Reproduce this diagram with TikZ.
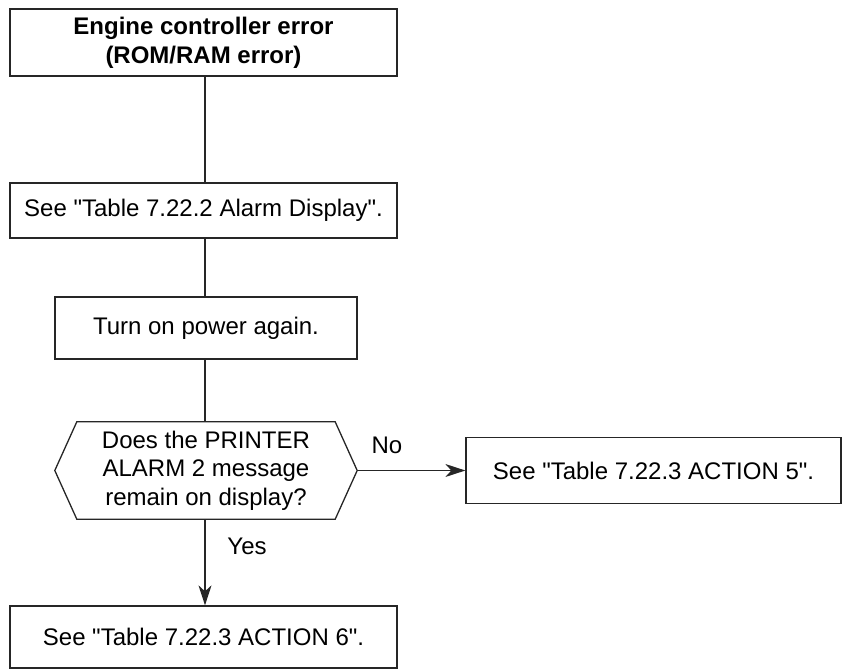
\documentclass[tikz,border=0pt]{standalone}
\usepackage{fontspec}
\setmainfont{Liberation Sans}[Ligatures=TeXOff]
\usetikzlibrary{arrows.meta,calc}
\begin{document}
\begin{tikzpicture}[x=1pt,y=-1pt,
  every node/.style={font=\fontsize{24}{28.5}\selectfont, align=center, inner sep=0pt},
  box/.style={draw=black!85, line width=1.3pt, rectangle},
  link/.style={draw=black!85, line width=1.3pt},
  arr/.style={link, -{Stealth[length=20pt,width=13pt,inset=6pt]}}]
\useasboundingbox (0,0) rectangle (843,669);
\node[box, minimum width=387pt, minimum height=67pt, font=\bfseries\fontsize{24}{29}\selectfont] (b1) at (203.5,42.5) {Engine controller error\\(ROM/RAM error)};
\node[box, minimum width=387pt, minimum height=55pt] (b2) at (203.5,210.5) {See "Table 7.22.2 Alarm Display".};
\node[box, minimum width=302pt, minimum height=62pt] (b3) at (206,328) {Turn on power again.};
\node[minimum width=302pt, minimum height=97pt] (q) at (206,470.5) {Does the PRINTER\\ALARM 2 message\\remain on display?};
\draw[link] (q.west) -- ([xshift=22pt]q.north west) -- ([xshift=-22pt]q.north east) -- (q.east) -- ([xshift=-22pt]q.south east) -- ([xshift=22pt]q.south west) -- cycle;
\node[box, minimum width=375pt, minimum height=66pt] (no) at (653.5,470.5) {See "Table 7.22.3 ACTION 5".};
\node[box, minimum width=387pt, minimum height=62pt] (yes) at (203.5,637) {See "Table 7.22.3 ACTION 6".};
\node (nol) at (387,445) {No};
\node (yesl) at (247,546) {Yes};
\draw[link] (b1.south -| 205,0) -- (b2.north -| 205,0);
\draw[link] (b2.south -| 205,0) -- (b3.north -| 205,0);
\draw[link] (b3.south -| 205,0) -- (q.north -| 205,0);
\draw[arr] (q.east) -- (no.west);
\draw[arr] (q.south -| 205,0) -- (yes.north -| 205,0);
\end{tikzpicture}
\end{document}
